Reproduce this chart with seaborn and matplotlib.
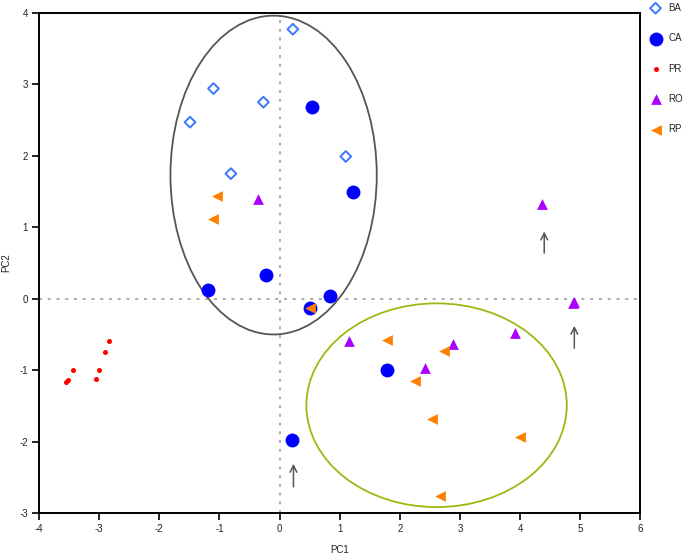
"""PCA score plot with group ellipses."""

import matplotlib

matplotlib.use("Agg")

import matplotlib.pyplot as plt
import pandas as pd
import seaborn as sns
from matplotlib.patches import Ellipse

# scores
ba_pc1 = [0.22, -1.10, -0.27, -1.49, -0.81, 1.10]
ba_pc2 = [3.77, 2.94, 2.75, 2.47, 1.75, 1.99]

ca_pc1 = [0.54, 1.22, -0.22, -1.19, 0.83, 0.50, 0.21, 1.78]
ca_pc2 = [2.68, 1.49, 0.33, 0.12, 0.04, -0.13, -1.98, -0.99]

pr_pc1 = [-2.84, -2.90, -3.00, -3.06, -3.44, -3.52, -3.55]
pr_pc2 = [-0.59, -0.74, -1.00, -1.12, -0.99, -1.13, -1.17]

ro_pc1 = [-0.36, 4.36, 4.87, 4.89, 1.16, 2.89, 2.42, 3.92]
ro_pc2 = [1.39, 1.32, -0.06, -0.04, -0.59, -0.63, -0.97, -0.48]

rp_pc1 = [-1.04, -1.11, 0.50, 1.78, 2.73, 2.25, 2.54, 3.99, 2.66]
rp_pc2 = [1.44, 1.12, -0.13, -0.58, -0.73, -1.15, -1.68, -1.93, -2.76]

# ellipses: centre x, centre y, width, height
ellipse_grey = [-0.10, 1.73, 3.43, 4.46]
ellipse_green = [2.61, -1.49, 4.33, 2.85]

# arrows: x, y start, y end
arrow_x = [4.40, 4.90, 0.23]
arrow_y0 = [0.60, -0.73, -2.67]
arrow_y1 = [0.98, -0.34, -2.27]

x_ticks = list(range(-4, 7))
y_ticks = list(range(-3, 5))

groups = {
    "BA": (ba_pc1, ba_pc2),
    "CA": (ca_pc1, ca_pc2),
    "PR": (pr_pc1, pr_pc2),
    "RO": (ro_pc1, ro_pc2),
    "RP": (rp_pc1, rp_pc2),
}

styles = {
    "BA": dict(marker="D", s=30, facecolor="none", edgecolor="#3a78ff", linewidth=1.4),
    "CA": dict(marker="o", s=100, color="#0000ff", linewidth=0),
    "PR": dict(marker="o", s=13, color="#ff0000", linewidth=0),
    "RO": dict(marker="^", s=60, color="#aa00ff", linewidth=0),
    "RP": dict(marker="<", s=60, color="#ff8000", linewidth=0),
}

rows = []
for name, (xs, ys) in groups.items():
    for x, y in zip(xs, ys):
        rows.append({"group": name, "PC1": x, "PC2": y})
scores = pd.DataFrame(rows)

sns.set_theme(style="white")
plt.rcParams["font.family"] = ["Liberation Sans", "DejaVu Sans"]

fig = plt.figure(figsize=(6.85, 5.56), dpi=100)
ax = fig.add_axes([0.057, 0.077, 0.878, 0.900])

ax.axhline(0, color="#aaaaaa", linestyle=(0, (1.5, 3)), linewidth=1.4, zorder=0)
ax.axvline(0, color="#aaaaaa", linestyle=(0, (1.5, 3)), linewidth=1.4, zorder=0)

for (cx, cy, w, h), col in [(ellipse_grey, "#555555"), (ellipse_green, "#99bb11")]:
    ax.add_patch(Ellipse((cx, cy), w, h, fill=False, edgecolor=col, linewidth=1.3, zorder=1))

for name in groups:
    sub = scores[scores["group"] == name]
    sns.scatterplot(data=sub, x="PC1", y="PC2", ax=ax, label=name, zorder=3, **styles[name])

for x, y0, y1 in zip(arrow_x, arrow_y0, arrow_y1):
    ax.annotate("", xy=(x, y1), xytext=(x, y0),
                arrowprops=dict(arrowstyle="->", color="#555555", linewidth=1.1))

ax.set_xlim(-4, 6)
ax.set_ylim(-3, 4)
ax.set_xticks(x_ticks)
ax.set_yticks(y_ticks)
ax.set_xticklabels([str(t) for t in x_ticks])
ax.set_yticklabels([str(t) for t in y_ticks])
ax.tick_params(axis="both", direction="out", length=5, width=1.2, labelsize=7,
               color="black", labelcolor="#222222", pad=3, bottom=True, left=True)
for spine in ax.spines.values():
    spine.set_visible(True)
    spine.set_color("black")
    spine.set_linewidth(1.4)
ax.set_xlabel("PC1", fontsize=7, color="#222222", labelpad=8)
ax.set_ylabel("PC2", fontsize=7, color="#222222", labelpad=6)
ax.grid(False)

ax.legend(loc="upper left", bbox_to_anchor=(1.017, 1.02), frameon=False, fontsize=7,
          labelspacing=2.1, handletextpad=0.8, borderaxespad=0, borderpad=0,
          handlelength=1.0)

fig.savefig("out.png", dpi=100)
